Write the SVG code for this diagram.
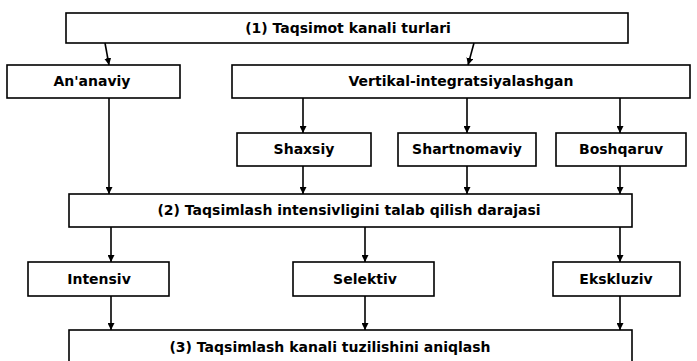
<svg xmlns="http://www.w3.org/2000/svg" width="697" height="361" viewBox="0 0 697 361">
<defs>
<marker id="ah" viewBox="0 0 10 10" refX="10" refY="5" markerWidth="7" markerHeight="7" markerUnits="userSpaceOnUse" orient="auto">
<path d="M0,0 L10,5 L0,10 z" fill="#000"/>
</marker>
<style>
rect{fill:#fff;stroke:#000;stroke-width:1.6}
text{font-family:"DejaVu Sans",sans-serif;font-weight:bold;font-size:14px;fill:#000;text-anchor:middle}
.c line{stroke:#000;stroke-width:1.6;marker-end:url(#ah)}
.c line.n{marker-end:none}
</style>
</defs>
<rect width="697" height="361" fill="#fff" style="stroke:none"/>
<g id="n1"><rect x="66" y="13" width="562" height="30"/><text x="348" y="33">(1) Taqsimot kanali turlari</text></g>
<g id="n_ananaviy"><rect x="7" y="65" width="173" height="33"/><text x="92" y="86">An'anaviy</text></g>
<g id="n_vertikal"><rect x="232" y="65" width="458" height="33"/><text x="461" y="86">Vertikal-integratsiyalashgan</text></g>
<g id="n_shaxsiy"><rect x="237" y="133" width="134" height="33"/><text x="304" y="154">Shaxsiy</text></g>
<g id="n_shartnomaviy"><rect x="398" y="133" width="138" height="33"/><text x="467" y="154">Shartnomaviy</text></g>
<g id="n_boshqaruv"><rect x="556" y="133" width="130" height="33"/><text x="621" y="154">Boshqaruv</text></g>
<g id="n2"><rect x="69" y="194" width="563" height="33"/><text x="349" y="215">(2) Taqsimlash intensivligini talab qilish darajasi</text></g>
<g id="n_intensiv"><rect x="28" y="262" width="141" height="34"/><text x="99" y="284">Intensiv</text></g>
<g id="n_selektiv"><rect x="293" y="262" width="141" height="34"/><text x="365" y="284">Selektiv</text></g>
<g id="n_ekskluziv"><rect x="553" y="262" width="127" height="34"/><text x="616" y="284">Ekskluziv</text></g>
<g id="n3"><rect x="69" y="330" width="563" height="40"/><text x="330" y="352">(3) Taqsimlash kanali tuzilishini aniqlash</text></g>
<g class="c" id="connectors">
<line x1="105" y1="43" x2="109" y2="65"/>
<line x1="474" y1="43" x2="468" y2="65"/>
<line x1="303" y1="98" x2="303" y2="133"/>
<line x1="467" y1="98" x2="467" y2="133"/>
<line x1="620" y1="98" x2="620" y2="133"/>
<line x1="109" y1="98" x2="109" y2="194"/>
<line x1="303" y1="166" x2="303" y2="194"/>
<line x1="467" y1="166" x2="467" y2="194"/>
<line x1="620" y1="166" x2="620" y2="194"/>
<line x1="111" y1="227" x2="111" y2="262"/>
<line x1="365" y1="227" x2="365" y2="262"/>
<line x1="620" y1="227" x2="620" y2="262"/>
<line x1="111" y1="296" x2="111" y2="330"/>
<line x1="365" y1="296" x2="365" y2="330"/>
<line x1="620" y1="296" x2="620" y2="330"/>
</g>
</svg>
